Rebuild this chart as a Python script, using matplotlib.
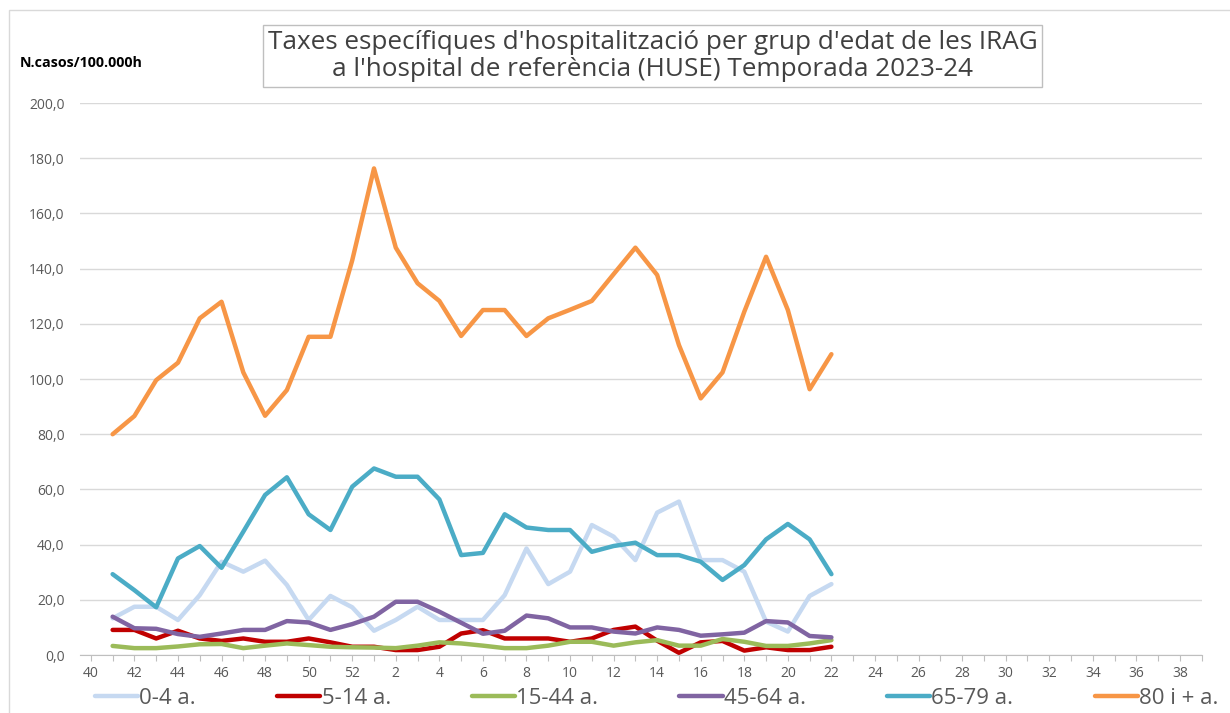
import matplotlib
matplotlib.use("Agg")
import matplotlib.pyplot as plt
from matplotlib.patches import Rectangle

# Week axis: 40..52, then 1..39
weeks_all = list(range(40, 53)) + list(range(1, 40))
tick_labels = [str(w) if w % 2 == 0 else "" for w in weeks_all]

# data weeks: 41..52, 1..22
data_weeks = list(range(41, 53)) + list(range(1, 23))

s_0_4 = [13.3, 17.5, 17.5, 12.7, 21.7, 33.8, 30.2, 34.2, 25.4, 12.7, 21.4, 17.3,
         8.8, 12.7, 17.5, 12.7, 12.7, 12.7, 21.7, 38.6, 25.7, 30.2, 47.1, 42.9,
         34.4, 51.6, 55.6, 34.4, 34.4, 30.2, 12.1, 8.5, 21.4, 25.7]
s_5_14 = [9.1, 9.1, 6.0, 8.8, 6.0, 5.1, 6.0, 4.8, 4.8, 6.0, 4.6, 3.0,
          3.0, 1.8, 1.8, 3.0, 7.8, 9.0, 6.0, 6.0, 6.0, 4.8, 6.0, 9.1,
          10.3, 5.2, 0.8, 4.6, 5.1, 1.6, 2.8, 1.8, 1.8, 3.0]
s_15_44 = [3.3, 2.5, 2.5, 3.1, 3.9, 4.0, 2.5, 3.4, 4.2, 3.6, 3.0, 2.8,
           2.7, 2.5, 3.4, 4.6, 4.2, 3.4, 2.5, 2.5, 3.4, 4.8, 4.8, 3.4,
           4.6, 5.4, 3.4, 3.4, 5.8, 4.8, 3.3, 3.3, 4.2, 5.4]
s_45_64 = [13.9, 9.7, 9.5, 7.6, 6.6, 7.8, 9.1, 9.1, 12.3, 11.8, 9.1, 11.2,
           13.9, 19.3, 19.3, 15.7, 11.7, 7.7, 8.8, 14.3, 13.3, 10.0, 10.0, 8.5,
           7.8, 10.0, 9.1, 7.0, 7.5, 8.1, 12.3, 11.8, 6.9, 6.4]
s_65_79 = [29.3, 23.5, 17.3, 35.0, 39.5, 31.6, 44.7, 58.0, 64.4, 51.0, 45.3, 61.0,
           67.6, 64.6, 64.6, 56.4, 36.2, 37.0, 51.0, 46.2, 45.3, 45.3, 37.4, 39.5,
           40.7, 36.2, 36.2, 33.8, 27.2, 32.6, 41.9, 47.5, 41.9, 29.3]
s_80 = [80.0, 86.6, 99.6, 105.9, 122.0, 128.0, 102.4, 86.7, 96.0, 115.3, 115.3, 143.0,
        176.3, 147.6, 134.7, 128.3, 115.6, 125.0, 125.0, 115.6, 122.0, 125.1, 128.3, 138.0,
        147.6, 137.7, 112.3, 93.0, 102.4, 124.4, 144.3, 125.0, 96.3, 109.0]

series_names = ["0-4 a.", "5-14 a.", "15-44 a.", "45-64 a.", "65-79 a.", "80 i + a."]
series_vals = [s_0_4, s_5_14, s_15_44, s_45_64, s_65_79, s_80]
colors = ["#C6D9F1", "#C00000", "#9BBB59", "#8064A2", "#4BACC6", "#F79646"]

plt.rcParams['font.family'] = ['Open Sans', 'DejaVu Sans']

fig = plt.figure(figsize=(12.3, 7.13), dpi=100)
ax = fig.add_axes([0.065, 0.0813, 0.912, 0.7742])

xpos = [weeks_all.index(w) for w in data_weeks]
handles = []
for name, vals, c in zip(series_names, series_vals, colors):
    h, = ax.plot(xpos, vals, color=c, lw=3.2, solid_joinstyle='round',
                 solid_capstyle='round', label=name)
    handles.append(h)

ax.set_ylim(0, 200)
ax.set_yticks(range(0, 201, 20))
ax.set_yticklabels([f"{v},0" for v in range(0, 201, 20)], color="#595959", fontsize=10)
ax.set_xlim(-0.5, 51.0)
ax.set_xticks(range(len(weeks_all)))
ax.set_xticklabels(tick_labels, color="#595959", fontsize=10)
ax.tick_params(axis='x', length=4, color="#BFBFBF", pad=4)
ax.tick_params(axis='y', length=0, pad=11)
ax.grid(axis='y', color="#D9D9D9", lw=1)
ax.set_axisbelow(True)
for s in ['top', 'right', 'left']:
    ax.spines[s].set_visible(False)
ax.spines['bottom'].set_color("#BFBFBF")

# title box
fig.text(0.5305, 0.9215, "Taxes específiques d'hospitalització per grup d'edat de les IRAG\n"
         "a l'hospital de referència (HUSE) Temporada 2023-24",
         ha='center', va='center', fontsize=18.8, color="#404040", linespacing=1.1,
         bbox=dict(boxstyle='square,pad=0.18', fc='white', ec='#BFBFBF', lw=1))
fig.text(0.016, 0.912, "N.casos/100.000h", ha='left', va='center', fontsize=10.3,
         fontweight='bold', color='black')

# outer frame
fig.patches.append(Rectangle((0.007, -0.01), 1.0, 0.996, transform=fig.transFigure,
                             fill=False, ec="#D9D9D9", lw=1))

fig.legend(handles=handles, loc='center left', ncol=6,
           bbox_to_anchor=(0.0772, 0.02), frameon=False,
           fontsize=16, handlelength=1.95, handletextpad=0.05, columnspacing=3.65,
           labelcolor="#595959", borderaxespad=0, borderpad=0)

fig.savefig("out.png", dpi=100)
